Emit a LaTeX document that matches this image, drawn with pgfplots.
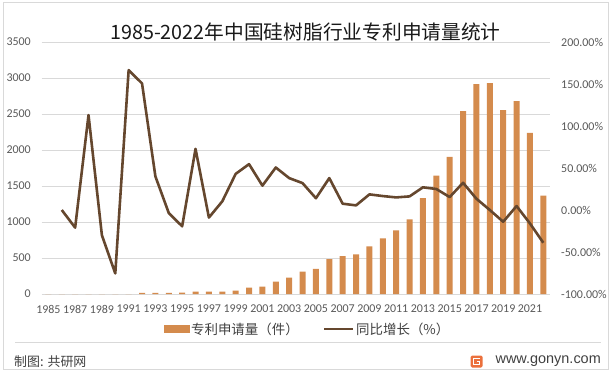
\documentclass[border=0pt]{standalone}
\usepackage{pgfplots}
\pgfplotsset{compat=1.18}
\usepackage{fontspec}
\setmainfont{Carlito}
\newfontfamily\cjk{Noto Sans CJK SC}
\newfontfamily\lib{Liberation Sans}
\definecolor{barc}{RGB}{212,139,77}
\definecolor{linec}{RGB}{101,71,46}
\definecolor{gridc}{RGB}{217,217,217}
\definecolor{tickc}{RGB}{89,89,89}
\definecolor{txtc}{RGB}{64,64,64}
\definecolor{logoc}{RGB}{235,112,60}
\pgfplotstableread{
year val
1985 0
1986 0
1987 0
1988 0
1989 0
1990 0
1991 0
1992 14
1993 15
1994 17
1995 19
1996 33
1997 33
1998 33
1999 46
2000 88
2001 102
2002 171
2003 227
2004 310
2005 350
2006 483
2007 525
2008 552
2009 663
2010 773
2011 884
2012 1036
2013 1331
2014 1644
2015 1906
2016 2541
2017 2914
2018 2928
2019 2555
2020 2680
2021 2238
2022 1367
}\bars
\pgfplotstableread{
year g
1986 0
1987 -21
1988 113
1989 -30
1990 -75.5
1991 166.5
1992 150.7
1993 40
1994 -3.6
1995 -19.4
1996 72.8
1997 -9
1998 10.3
1999 43
2000 54.6
2001 29
2002 50.6
2003 38
2004 32
2005 14
2006 38
2007 7.5
2008 5.5
2009 18.6
2010 16.6
2011 15
2012 16.2
2013 27
2014 25
2015 15.4
2016 32.4
2017 13.4
2018 0
2019 -14
2020 4.7
2021 -16
2022 -39
}\growth
\begin{document}
\begin{tikzpicture}[x=1bp,y=1bp]
\path[use as bounding box] (0,0) rectangle (615,370);
\draw[gridc, line width=0.75bp] (3,1) rectangle (608,368);
\node[font=\cjk\fontsize{19.8}{24}\selectfont, text=black!90] at (305.5,338.3) {1985-2022年中国硅树脂行业专利申请量统计};
\begin{axis}[
  at={(41.7bp,76bp)}, anchor=south west, scale only axis,
  width=508.3bp, height=252bp,
  xmin=1984.5, xmax=2022.5, ymin=0, ymax=3500,
  ytick={0,500,...,3500},
  xtick={1985,1987,...,2021},
  xticklabels={1985,1987,1989,1991,1993,1995,1997,1999,2001,2003,2005,2007,2009,2011,2013,2015,2017,2019,2021},
  axis y line*=left, axis x line*=bottom,
  axis line style={draw=none},
  ymajorgrids, grid style={gridc, line width=0.75bp},
  major tick length=0pt,
  /pgf/number format/1000 sep={},
  /pgf/number format/assume math mode=true,
  tick label style={font=\fontsize{12}{14}\selectfont, text=tickc, inner sep=0pt},
  yticklabel shift=10.7bp,
  xticklabel shift=11bp,
  clip=false,
]
\addplot[ybar, bar width=6bp, fill=barc, draw=none] table[x=year, y=val] {\bars};
\end{axis}
\begin{axis}[
  at={(41.7bp,76bp)}, anchor=south west, scale only axis,
  width=508.3bp, height=252bp,
  xmin=1984.5, xmax=2022.5, ymin=-100, ymax=200,
  ytick={-100,-50,...,200},
  axis y line*=right, axis x line=none,
  axis line style={draw=none},
  major tick length=0pt,
  yticklabel={\pgfmathprintnumber[fixed,fixed zerofill,precision=2,assume math mode=true]{\tick}\%},
  tick label style={font=\fontsize{12}{14}\selectfont, text=tickc, inner sep=0pt},
  yticklabel shift=11bp,
  legend columns=2,
  legend style={at={(0.523,-0.139)}, anchor=center, draw=none, fill=none,
    font=\cjk\fontsize{13.5}{16}\selectfont, text=txtc, inner sep=0pt,
    nodes={inner sep=2bp},
    /tikz/every even column/.append style={column sep=22bp}},
  clip=false,
]
\addlegendimage{legend image code/.code={\fill[barc] (0bp,-3.5bp) rectangle (25bp,3.5bp);}}
\addlegendentry{专利申请量（件）}
\addplot[linec, line width=2.6bp, line join=round, mark=none,
  legend image code/.code={\draw[linec,line width=2.5bp] (0bp,0bp) -- (29bp,0bp);}]
  table[x=year, y=g] {\growth};
\addlegendentry{同比增长（\%）}
\end{axis}
\draw[gridc, line width=0.75bp] (15,28) -- (601,28);
\node[anchor=west, font=\cjk\fontsize{13}{15}\selectfont, text=txtc, inner sep=0pt] at (14,8.5) {制图: 共研网};
\fill[logoc, rounded corners=1.5bp] (470.5,2.5) rectangle (482.5,14.5);
\draw[white, line width=1.4bp] (480,11.5) -- (473.5,11.5) -- (473.5,5.5) -- (479.5,5.5) -- (479.5,8.5) -- (476.5,8.5);
\node[anchor=east, font=\lib\fontsize{14.5}{17}\selectfont, text=txtc, inner sep=0pt] at (601,9) {www.gonyn.com};
\end{tikzpicture}
\end{document}
